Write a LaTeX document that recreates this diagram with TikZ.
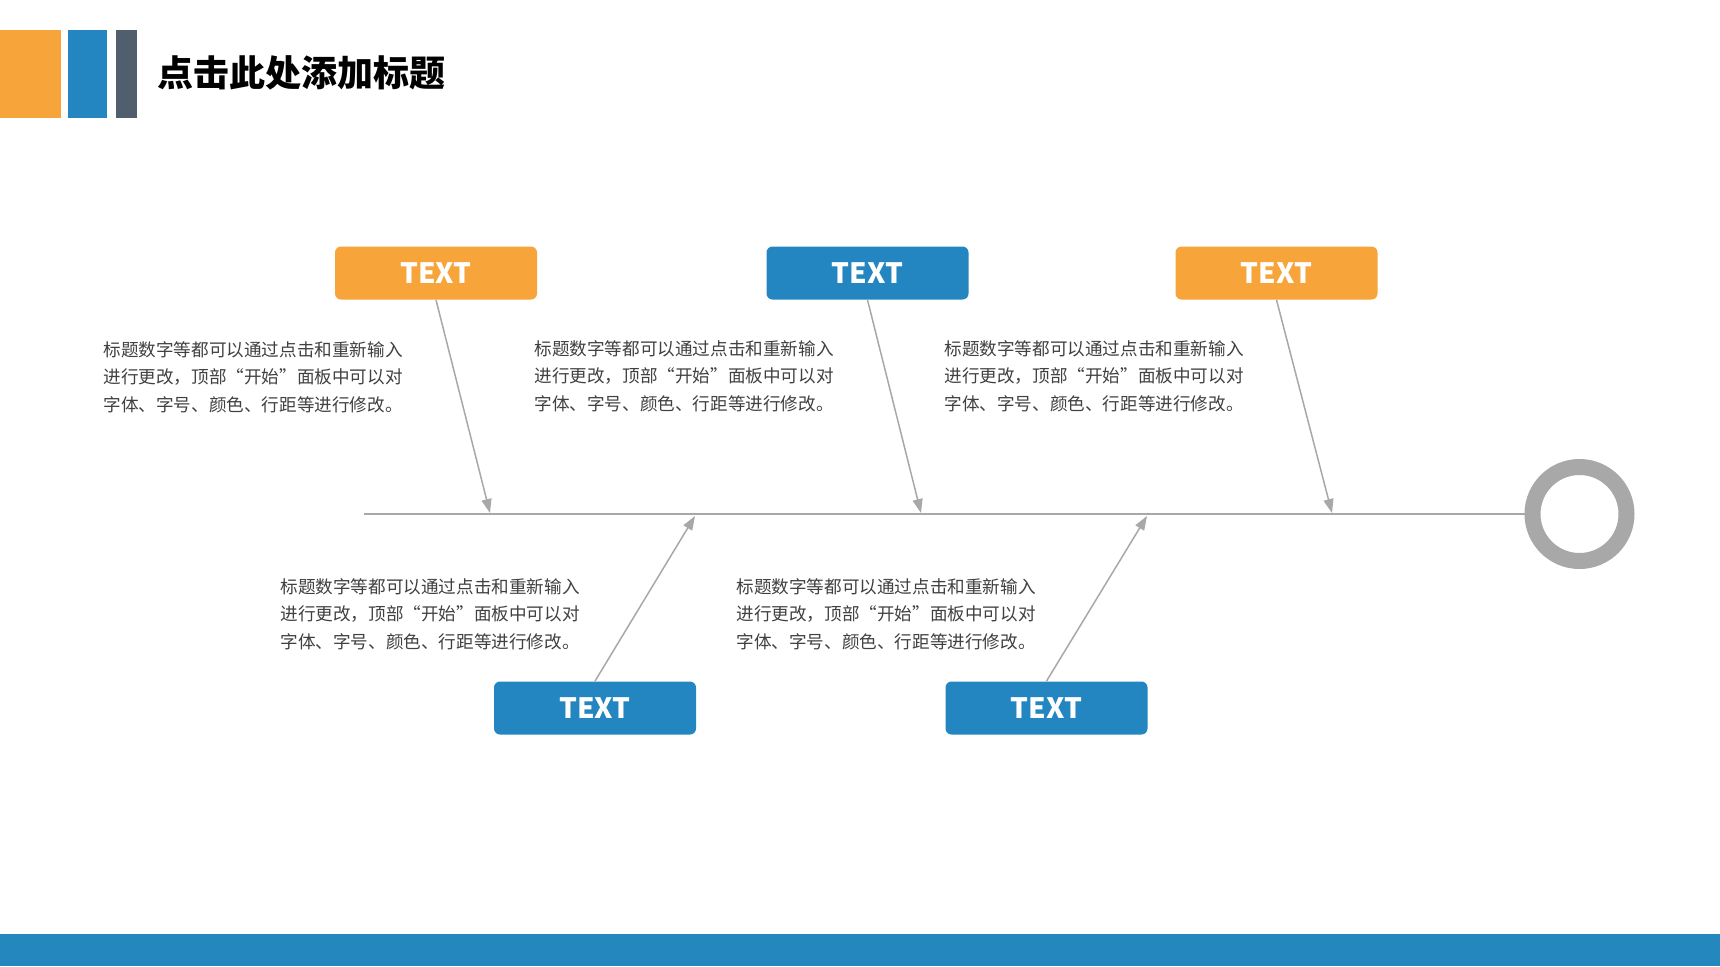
\documentclass[tikz,border=0pt]{standalone}
\usepackage{fontspec}
\setmainfont{Noto Sans CJK SC}
\usetikzlibrary{arrows.meta}

\definecolor{tagorange}{RGB}{247,164,58}
\definecolor{tagblue}{RGB}{35,134,193}
\definecolor{slate}{RGB}{80,94,110}
\definecolor{spinegray}{RGB}{168,168,168}
\definecolor{bodygray}{RGB}{64,64,64}
\definecolor{barblue}{RGB}{36,135,190}

\newcommand{\bodytext}{标题数字等都可以通过点击和重新输入\\进行更改，顶部“开始”面板中可以对\\字体、字号、颜色、行距等进行修改。}

\tikzset{
  tagbox/.style={rounded corners=3pt, minimum width=101pt, minimum height=26.5pt, inner sep=0pt,
    text=white, font=\fontsize{14}{16}\selectfont\bfseries},
  desc/.style={anchor=north west, inner sep=0pt, align=left, text=bodygray,
    font=\fontsize{8.8}{13.75}\selectfont},
  bone/.style={draw=spinegray, line width=0.75pt, -{Triangle[length=7pt,width=5pt]}},
}

\begin{document}
\begin{tikzpicture}[x=0.5pt,y=0.5pt,yscale=-1,xscale=1]
\fill[white] (0,0) rectangle (1720,966);
\useasboundingbox (0,0) rectangle (1720,966);

%Shape: Rectangle [header bars]
\fill[tagorange] (0,30) rectangle (61,118);
\fill[tagblue] (68,30) rectangle (107,118);
\fill[slate] (116,30) rectangle (137,118);
% Text Node
\node (title) [anchor=west, inner sep=0pt, font=\fontsize{18}{20}\selectfont\bfseries] at (157,73) {点击此处添加标题};

%Shape: Rectangle [footer]
\fill[barblue] (0,934) rectangle (1720,966);

%Shape: Circle
\node (hub) [circle, draw=spinegray, line width=8pt, minimum size=47pt, inner sep=0pt] at (1579.5,514) {};
%Straight Lines
\coordinate (tail) at (364,514);
\draw[spinegray, line width=1pt] (tail) -- (hub.west);

% Tag Nodes
\node (topA) [tagbox, fill=tagorange] at (436,273) {TEXT};
\node (topB) [tagbox, fill=tagblue] at (867.5,273) {TEXT};
\node (topC) [tagbox, fill=tagorange] at (1276.5,273) {TEXT};
\node (lowA) [tagbox, fill=tagblue] at (595,708) {TEXT};
\node (lowB) [tagbox, fill=tagblue] at (1046.5,708) {TEXT};

%Straight Lines [bones]
\coordinate (jA) at (490,513);
\coordinate (jB) at (921,513);
\coordinate (jC) at (1332,513);
\coordinate (jD) at (695,516);
\coordinate (jE) at (1147,516);
\draw[bone] (topA.south) -- (jA);
\draw[bone] (topB.south) -- (jB);
\draw[bone] (topC.south) -- (jC);
\draw[bone] (lowA.north) -- (jD);
\draw[bone] (lowB.north) -- (jE);

% Text Node
\node (descA) [desc] at (103,341) {\bodytext};
% Text Node
\node (descB) [desc] at (534,340) {\bodytext};
% Text Node
\node (descC) [desc] at (944,340) {\bodytext};
% Text Node
\node (descD) [desc] at (280,578) {\bodytext};
% Text Node
\node (descE) [desc] at (736,578) {\bodytext};

\end{tikzpicture}
\end{document}
